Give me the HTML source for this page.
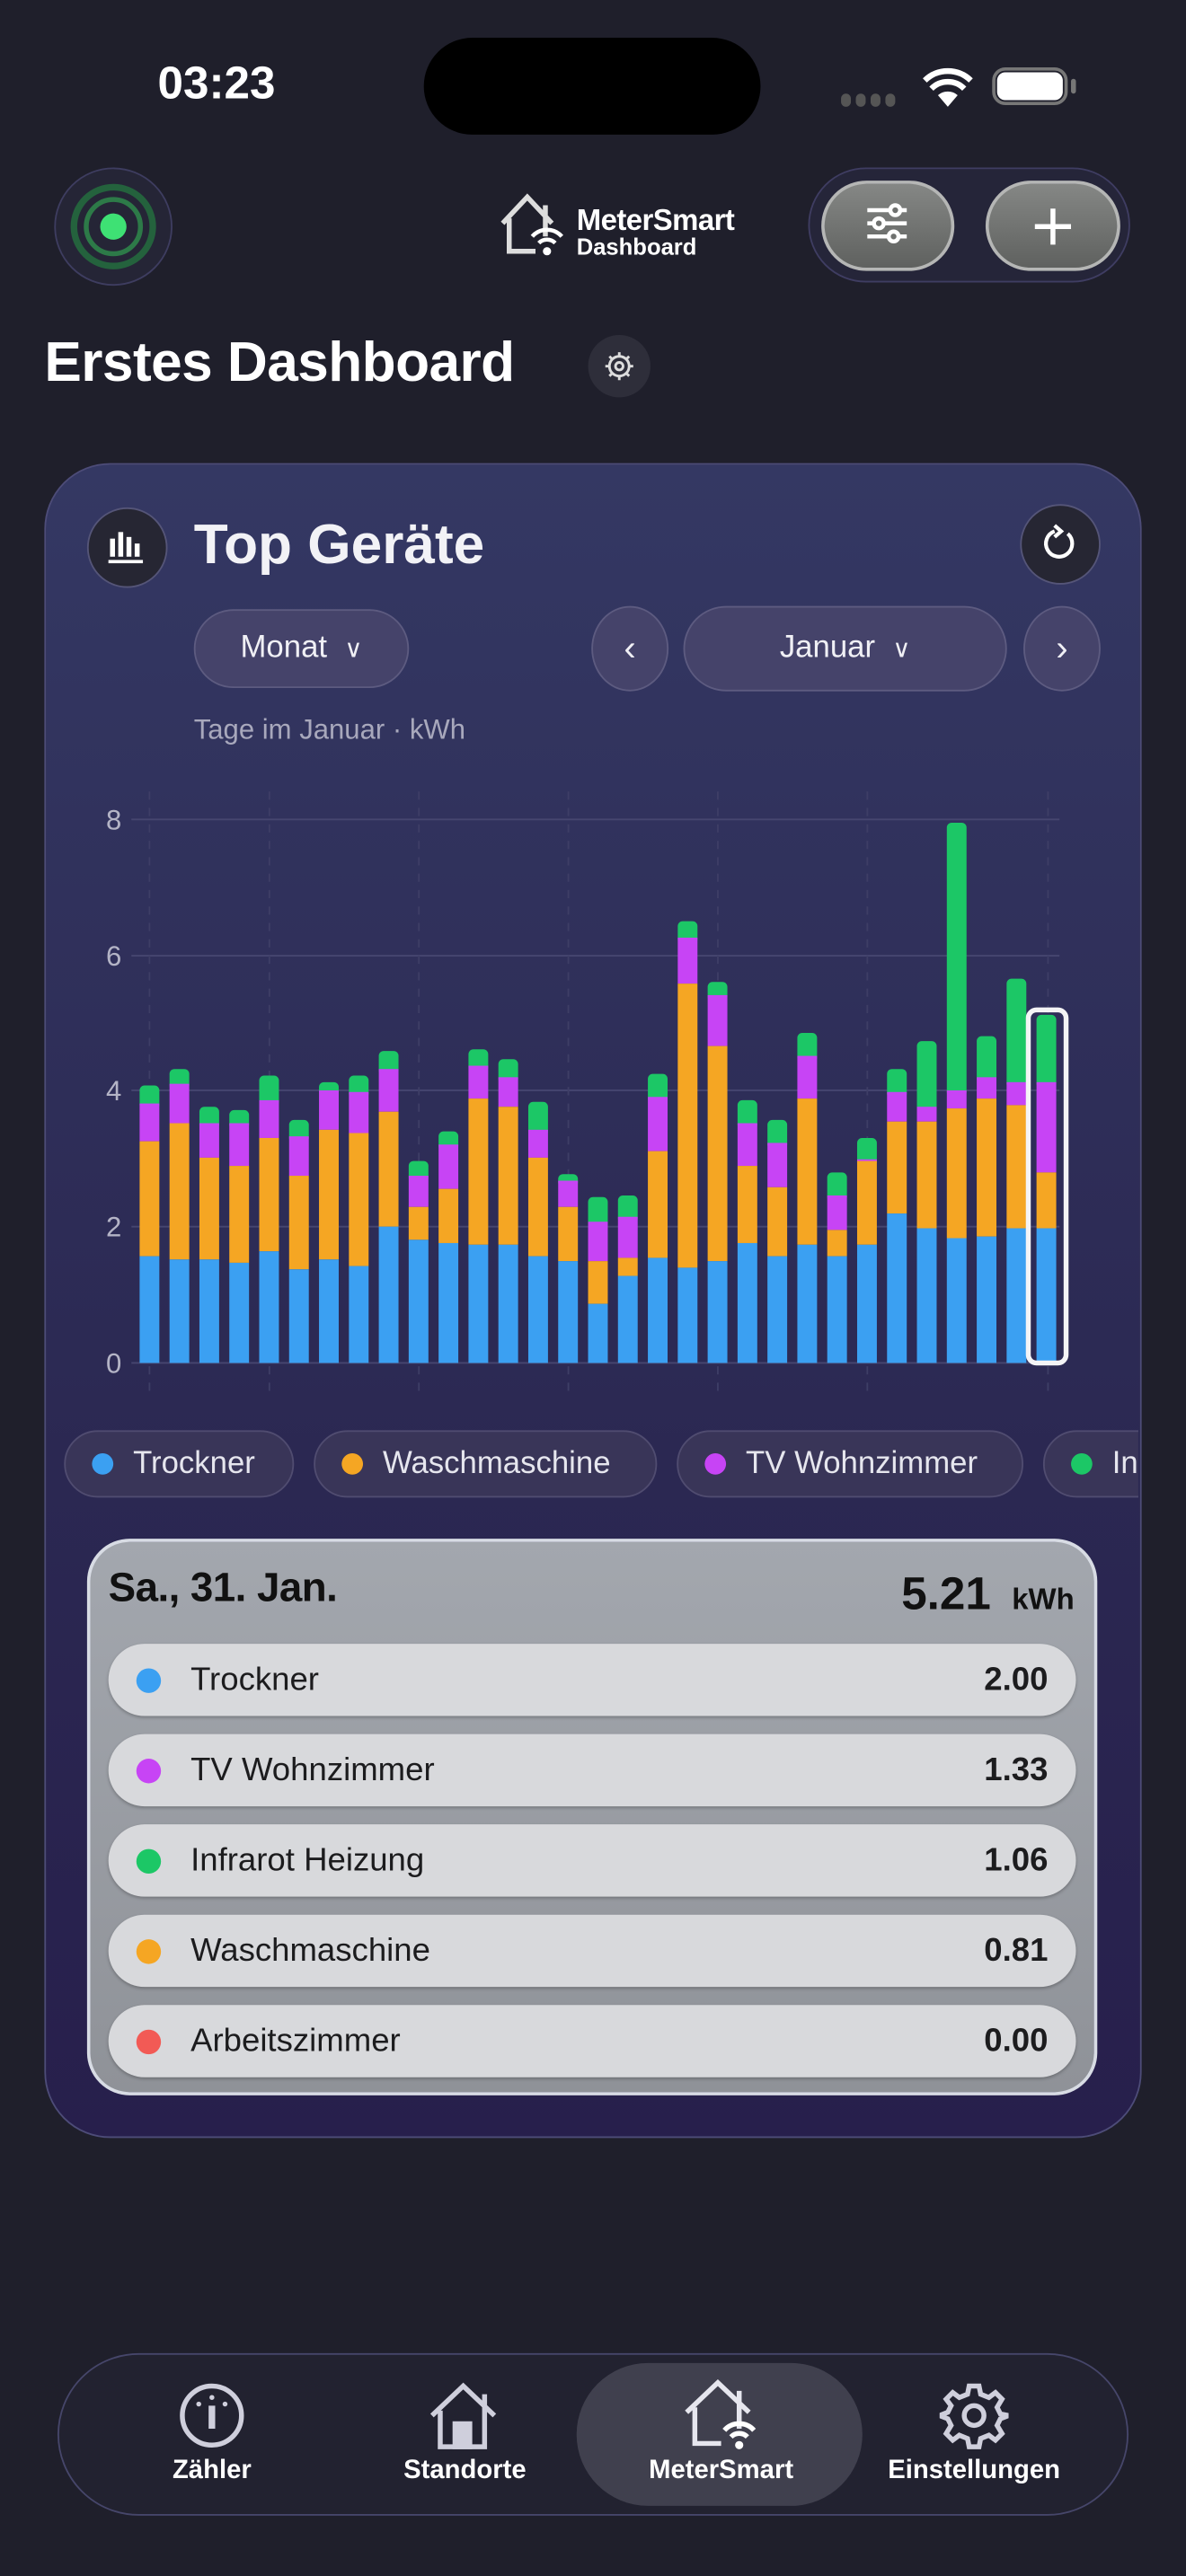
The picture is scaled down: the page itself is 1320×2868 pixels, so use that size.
<!DOCTYPE html>
<html><head><meta charset="utf-8">
<style>
html,body{margin:0;padding:0;background:#1f1f2b;width:1320px;height:2868px;overflow:hidden}
#s{position:absolute;left:0;top:0;width:722px;height:1568px;overflow:hidden;transform:scale(1.82825);transform-origin:0 0;font-family:"Liberation Sans",sans-serif;color:#fff}
.a{position:absolute}
.circ{position:absolute;border-radius:50%;box-sizing:border-box}
.pill{position:absolute;box-sizing:border-box;border-radius:24px;background:#45436a;border:1.5px solid #5d5b80;display:flex;align-items:center;justify-content:center;font-size:19px;color:#f0f0f5}
.chip{position:absolute;top:11px;height:41px;box-sizing:border-box;border-radius:21px;background:#393558;border:1.5px solid #504c70;font-size:19px;color:#e6e6ee;display:flex;align-items:center;padding-left:16px;white-space:nowrap}
.dot{width:13px;height:13px;border-radius:50%;display:inline-block;margin-right:12px}
.row{position:absolute;left:66px;width:589px;height:44px;border-radius:22px;background:#d8d9dc;box-shadow:0 1px 2px rgba(0,0,0,.25);display:flex;align-items:center;font-size:20px;color:#1c1c1e}
.row .dot{margin-left:17px;margin-right:18px;width:15px;height:15px}
.row b{position:absolute;right:17px;font-weight:700;font-size:20px}
.tl{position:absolute;top:1496px;font-size:16px;font-weight:700;color:#fff;width:160px;text-align:center}
</style></head><body><div id="s">
<!-- status bar -->
<div class="a" style="left:96px;top:35px;font-size:28px;font-weight:700">03:23</div>
<div class="a" style="left:258px;top:23px;width:205px;height:59px;border-radius:30px;background:#000"></div>
<div class="a" style="left:512px;top:57px;width:35px;height:8px">
 <span class="a" style="left:0;width:6px;height:8px;border-radius:3px;background:#555"></span><span class="a" style="left:9px;width:6px;height:8px;border-radius:3px;background:#555"></span><span class="a" style="left:18px;width:6px;height:8px;border-radius:3px;background:#555"></span><span class="a" style="left:27px;width:6px;height:8px;border-radius:3px;background:#555"></span></div>
<svg class="a" style="left:560px;top:40px" width="34" height="26" viewBox="0 0 34 26"><path d="M17 25 L11 18 A9 9 0 0 1 23 18 Z" fill="#fff"/><path d="M7 14 A14 14 0 0 1 27 14" stroke="#fff" stroke-width="3.5" fill="none"/><path d="M3 9 A20 20 0 0 1 31 9" stroke="#fff" stroke-width="3.5" fill="none"/></svg>
<div class="a" style="left:604px;top:41px;width:46px;height:23px;border-radius:8px;border:2px solid #777;box-sizing:border-box"></div>
<div class="a" style="left:607px;top:44px;width:40px;height:17px;border-radius:5px;background:#fff"></div>
<div class="a" style="left:652px;top:48px;width:3px;height:9px;border-radius:2px;background:#777"></div>
<!-- header -->
<div class="circ" style="left:33px;top:102px;width:72px;height:72px;background:#252536;border:1.5px solid #3e3d60"></div>
<div class="circ" style="left:43px;top:112px;width:52px;height:52px;border:4px solid #24623d"></div>
<div class="circ" style="left:51px;top:120px;width:36px;height:36px;border:3.5px solid #2d7a48"></div>
<div class="circ" style="left:61px;top:130px;width:16px;height:16px;background:#3ee174"></div>
<svg class="a" style="left:302px;top:116px" width="50" height="42" viewBox="0 0 50 42"><path d="M4 20 L19 4 L34 20 M30 9 V28 M8 17 V37 H24" stroke="#ddd" stroke-width="3" fill="none"/><path d="M26 32 A7 7 0 0 1 36 32 M22 28 A12 12 0 0 1 40 28" stroke="#fff" stroke-width="2.5" fill="none"/><circle cx="31" cy="37" r="2.5" fill="#fff"/></svg>
<div class="a" style="left:351px;top:124px;font-size:18px;font-weight:700;letter-spacing:-.3px">MeterSmart</div>
<div class="a" style="left:351px;top:142px;font-size:14px;font-weight:700">Dashboard</div>
<div class="a" style="left:492px;top:102px;width:196px;height:70px;border-radius:35px;background:#252539;border:1.5px solid #3f3d62;box-sizing:border-box"></div>
<div class="a" style="left:500px;top:110px;width:81px;height:55px;border-radius:28px;background:linear-gradient(#858785,#5f615f);border:2px solid #b5b6b5;box-sizing:border-box"></div>
<div class="a" style="left:600px;top:110px;width:82px;height:55px;border-radius:28px;background:linear-gradient(#858785,#5f615f);border:2px solid #b5b6b5;box-sizing:border-box"></div>
<svg class="a" style="left:525px;top:122px" width="30" height="30" viewBox="0 0 30 30" stroke="#fff" stroke-width="2.5" fill="none"><path d="M3 6H27M3 14H27M3 22H27"/><circle cx="20" cy="6" r="3" fill="#6f716f"/><circle cx="10" cy="14" r="3" fill="#6f716f"/><circle cx="19" cy="22" r="3" fill="#6f716f"/></svg>
<svg class="a" style="left:627px;top:124px" width="28" height="28" viewBox="0 0 28 28" stroke="#fff" stroke-width="3"><path d="M14 3V25M3 14H25"/></svg>
<div class="a" style="left:27px;top:202px;font-size:34px;font-weight:700;letter-spacing:-.3px">Erstes Dashboard</div>
<div class="circ" style="left:358px;top:204px;width:38px;height:38px;background:#2e2e3a"></div>
<svg class="a" style="left:367px;top:213px" width="20" height="20" viewBox="0 0 20 20" fill="none" stroke="#ddd" stroke-width="1.6"><circle cx="10" cy="10" r="6"/><circle cx="10" cy="10" r="2.3"/><path d="M10 1.5V4M10 16V18.5M1.5 10H4M16 10H18.5M4 4L5.8 5.8M14.2 14.2L16 16M16 4L14.2 5.8M5.8 14.2L4 16"/></svg>
<!-- card -->
<div class="a" style="left:27px;top:282px;width:668px;height:1020px;border-radius:40px;background:linear-gradient(#343863,#2b2852 60%,#271f4c);border:1.5px solid #4d4c78;box-sizing:border-box"></div>
<div class="circ" style="left:53px;top:309px;width:49px;height:49px;background:#262633;border:1.5px solid #555578"></div>
<svg class="a" style="left:65px;top:322px" width="24" height="22" viewBox="0 0 24 22" fill="#fff"><rect x="2" y="6" width="3" height="11"/><rect x="7" y="2" width="3" height="15"/><rect x="12" y="5" width="3" height="12"/><rect x="17" y="9" width="3" height="8"/><rect x="1" y="19" width="21" height="2"/></svg>
<div class="a" style="left:118px;top:313px;font-size:34px;font-weight:700;color:#f2f2f6">Top Geräte</div>
<div class="circ" style="left:621px;top:307px;width:49px;height:49px;background:#262633;border:1.5px solid #555578"></div>
<svg class="a" style="left:633px;top:319px" width="24" height="24" viewBox="0 0 24 24" fill="none" stroke="#fff" stroke-width="2.3"><path d="M17 6 A8 8 0 1 1 9 4.5"/><path d="M9 1 L13 4.5 L9 8"/></svg>
<div class="pill" style="left:118px;top:371px;width:131px;height:48px">Monat&nbsp;&nbsp;<span style="font-size:15px">∨</span></div>
<div class="pill" style="left:360px;top:369px;width:47px;height:52px;border-radius:50%;font-size:22px">‹</div>
<div class="pill" style="left:416px;top:369px;width:197px;height:52px;border-radius:26px">Januar&nbsp;&nbsp;<span style="font-size:15px">∨</span></div>
<div class="pill" style="left:623px;top:369px;width:47px;height:52px;border-radius:50%;font-size:22px">›</div>
<div class="a" style="left:118px;top:435px;font-size:17px;color:#a8a8bc">Tage im Januar · kWh</div>
<!-- chart -->
<svg class="a" style="left:0;top:0" width="722" height="900" viewBox="0 0 722 900">
<g stroke="#464670" stroke-width="1"><line x1="80" x2="645" y1="499" y2="499"/><line x1="80" x2="645" y1="582" y2="582"/><line x1="80" x2="645" y1="664" y2="664"/><line x1="80" x2="645" y1="747" y2="747"/><line x1="80" x2="645" y1="830" y2="830"/></g>
<g stroke="#3e3e66" stroke-width="1" stroke-dasharray="5 5"><line x1="91" x2="91" y1="482" y2="850"/><line x1="164" x2="164" y1="482" y2="850"/><line x1="255" x2="255" y1="482" y2="850"/><line x1="346" x2="346" y1="482" y2="850"/><line x1="437" x2="437" y1="482" y2="850"/><line x1="528" x2="528" y1="482" y2="850"/><line x1="638" x2="638" y1="482" y2="850"/></g>
<g font-family="Liberation Sans,sans-serif" font-size="17" fill="#b4b4c6" text-anchor="end"><text x="74" y="505">8</text><text x="74" y="588">6</text><text x="74" y="670">4</text><text x="74" y="753">2</text><text x="74" y="836">0</text></g>
<g>
<rect x="85" y="661" width="12" height="15" rx="3" fill="#1cc766"/><rect x="85" y="672" width="12" height="23" fill="#c744f5"/><rect x="85" y="695" width="12" height="70" fill="#f5a623"/><rect x="85" y="765" width="12" height="65" fill="#3ba0f2"/>
<rect x="103.2" y="651" width="12" height="13" rx="3" fill="#1cc766"/><rect x="103.2" y="660" width="12" height="24" fill="#c744f5"/><rect x="103.2" y="684" width="12" height="83" fill="#f5a623"/><rect x="103.2" y="767" width="12" height="63" fill="#3ba0f2"/>
<rect x="121.4" y="674" width="12" height="14" rx="3" fill="#1cc766"/><rect x="121.4" y="684" width="12" height="21" fill="#c744f5"/><rect x="121.4" y="705" width="12" height="62" fill="#f5a623"/><rect x="121.4" y="767" width="12" height="63" fill="#3ba0f2"/>
<rect x="139.6" y="676" width="12" height="12" rx="3" fill="#1cc766"/><rect x="139.6" y="684" width="12" height="26" fill="#c744f5"/><rect x="139.6" y="710" width="12" height="59" fill="#f5a623"/><rect x="139.6" y="769" width="12" height="61" fill="#3ba0f2"/>
<rect x="157.8" y="655" width="12" height="19" rx="3" fill="#1cc766"/><rect x="157.8" y="670" width="12" height="23" fill="#c744f5"/><rect x="157.8" y="693" width="12" height="69" fill="#f5a623"/><rect x="157.8" y="762" width="12" height="68" fill="#3ba0f2"/>
<rect x="176" y="682" width="12" height="14" rx="3" fill="#1cc766"/><rect x="176" y="692" width="12" height="24" fill="#c744f5"/><rect x="176" y="716" width="12" height="57" fill="#f5a623"/><rect x="176" y="773" width="12" height="57" fill="#3ba0f2"/>
<rect x="194.2" y="659" width="12" height="9" rx="3" fill="#1cc766"/><rect x="194.2" y="664" width="12" height="24" fill="#c744f5"/><rect x="194.2" y="688" width="12" height="79" fill="#f5a623"/><rect x="194.2" y="767" width="12" height="63" fill="#3ba0f2"/>
<rect x="212.4" y="655" width="12" height="14" rx="3" fill="#1cc766"/><rect x="212.4" y="665" width="12" height="25" fill="#c744f5"/><rect x="212.4" y="690" width="12" height="81" fill="#f5a623"/><rect x="212.4" y="771" width="12" height="59" fill="#3ba0f2"/>
<rect x="230.6" y="640" width="12" height="15" rx="3" fill="#1cc766"/><rect x="230.6" y="651" width="12" height="26" fill="#c744f5"/><rect x="230.6" y="677" width="12" height="70" fill="#f5a623"/><rect x="230.6" y="747" width="12" height="83" fill="#3ba0f2"/>
<rect x="248.8" y="707" width="12" height="13" rx="3" fill="#1cc766"/><rect x="248.8" y="716" width="12" height="19" fill="#c744f5"/><rect x="248.8" y="735" width="12" height="20" fill="#f5a623"/><rect x="248.8" y="755" width="12" height="75" fill="#3ba0f2"/>
<rect x="267" y="689" width="12" height="12" rx="3" fill="#1cc766"/><rect x="267" y="697" width="12" height="27" fill="#c744f5"/><rect x="267" y="724" width="12" height="33" fill="#f5a623"/><rect x="267" y="757" width="12" height="73" fill="#3ba0f2"/>
<rect x="285.2" y="639" width="12" height="14" rx="3" fill="#1cc766"/><rect x="285.2" y="649" width="12" height="20" fill="#c744f5"/><rect x="285.2" y="669" width="12" height="89" fill="#f5a623"/><rect x="285.2" y="758" width="12" height="72" fill="#3ba0f2"/>
<rect x="303.4" y="645" width="12" height="15" rx="3" fill="#1cc766"/><rect x="303.4" y="656" width="12" height="18" fill="#c744f5"/><rect x="303.4" y="674" width="12" height="84" fill="#f5a623"/><rect x="303.4" y="758" width="12" height="72" fill="#3ba0f2"/>
<rect x="321.6" y="671" width="12" height="21" rx="3" fill="#1cc766"/><rect x="321.6" y="688" width="12" height="17" fill="#c744f5"/><rect x="321.6" y="705" width="12" height="60" fill="#f5a623"/><rect x="321.6" y="765" width="12" height="65" fill="#3ba0f2"/>
<rect x="339.8" y="715" width="12" height="8" rx="3" fill="#1cc766"/><rect x="339.8" y="719" width="12" height="16" fill="#c744f5"/><rect x="339.8" y="735" width="12" height="33" fill="#f5a623"/><rect x="339.8" y="768" width="12" height="62" fill="#3ba0f2"/>
<rect x="358" y="729" width="12" height="19" rx="3" fill="#1cc766"/><rect x="358" y="744" width="12" height="24" fill="#c744f5"/><rect x="358" y="768" width="12" height="26" fill="#f5a623"/><rect x="358" y="794" width="12" height="36" fill="#3ba0f2"/>
<rect x="376.2" y="728" width="12" height="17" rx="3" fill="#1cc766"/><rect x="376.2" y="741" width="12" height="25" fill="#c744f5"/><rect x="376.2" y="766" width="12" height="11" fill="#f5a623"/><rect x="376.2" y="777" width="12" height="53" fill="#3ba0f2"/>
<rect x="394.4" y="654" width="12" height="18" rx="3" fill="#1cc766"/><rect x="394.4" y="668" width="12" height="33" fill="#c744f5"/><rect x="394.4" y="701" width="12" height="65" fill="#f5a623"/><rect x="394.4" y="766" width="12" height="64" fill="#3ba0f2"/>
<rect x="412.6" y="561" width="12" height="14" rx="3" fill="#1cc766"/><rect x="412.6" y="571" width="12" height="28" fill="#c744f5"/><rect x="412.6" y="599" width="12" height="173" fill="#f5a623"/><rect x="412.6" y="772" width="12" height="58" fill="#3ba0f2"/>
<rect x="430.8" y="598" width="12" height="12" rx="3" fill="#1cc766"/><rect x="430.8" y="606" width="12" height="31" fill="#c744f5"/><rect x="430.8" y="637" width="12" height="131" fill="#f5a623"/><rect x="430.8" y="768" width="12" height="62" fill="#3ba0f2"/>
<rect x="449" y="670" width="12" height="18" rx="3" fill="#1cc766"/><rect x="449" y="684" width="12" height="26" fill="#c744f5"/><rect x="449" y="710" width="12" height="47" fill="#f5a623"/><rect x="449" y="757" width="12" height="73" fill="#3ba0f2"/>
<rect x="467.2" y="682" width="12" height="18" rx="3" fill="#1cc766"/><rect x="467.2" y="696" width="12" height="27" fill="#c744f5"/><rect x="467.2" y="723" width="12" height="42" fill="#f5a623"/><rect x="467.2" y="765" width="12" height="65" fill="#3ba0f2"/>
<rect x="485.4" y="629" width="12" height="18" rx="3" fill="#1cc766"/><rect x="485.4" y="643" width="12" height="26" fill="#c744f5"/><rect x="485.4" y="669" width="12" height="89" fill="#f5a623"/><rect x="485.4" y="758" width="12" height="72" fill="#3ba0f2"/>
<rect x="503.6" y="714" width="12" height="18" rx="3" fill="#1cc766"/><rect x="503.6" y="728" width="12" height="21" fill="#c744f5"/><rect x="503.6" y="749" width="12" height="16" fill="#f5a623"/><rect x="503.6" y="765" width="12" height="65" fill="#3ba0f2"/>
<rect x="521.8" y="693" width="12" height="17" rx="3" fill="#1cc766"/><rect x="521.8" y="706" width="12" height="2" fill="#c744f5"/><rect x="521.8" y="707" width="12" height="51" fill="#f5a623"/><rect x="521.8" y="758" width="12" height="72" fill="#3ba0f2"/>
<rect x="540" y="651" width="12" height="18" rx="3" fill="#1cc766"/><rect x="540" y="665" width="12" height="18" fill="#c744f5"/><rect x="540" y="683" width="12" height="56" fill="#f5a623"/><rect x="540" y="739" width="12" height="91" fill="#3ba0f2"/>
<rect x="558.2" y="634" width="12" height="44" rx="3" fill="#1cc766"/><rect x="558.2" y="674" width="12" height="9" fill="#c744f5"/><rect x="558.2" y="683" width="12" height="65" fill="#f5a623"/><rect x="558.2" y="748" width="12" height="82" fill="#3ba0f2"/>
<rect x="576.4" y="501" width="12" height="167" rx="3" fill="#1cc766"/><rect x="576.4" y="664" width="12" height="11" fill="#c744f5"/><rect x="576.4" y="675" width="12" height="79" fill="#f5a623"/><rect x="576.4" y="754" width="12" height="76" fill="#3ba0f2"/>
<rect x="594.6" y="631" width="12" height="29" rx="3" fill="#1cc766"/><rect x="594.6" y="656" width="12" height="13" fill="#c744f5"/><rect x="594.6" y="669" width="12" height="84" fill="#f5a623"/><rect x="594.6" y="753" width="12" height="77" fill="#3ba0f2"/>
<rect x="612.8" y="596" width="12" height="67" rx="3" fill="#1cc766"/><rect x="612.8" y="659" width="12" height="14" fill="#c744f5"/><rect x="612.8" y="673" width="12" height="75" fill="#f5a623"/><rect x="612.8" y="748" width="12" height="82" fill="#3ba0f2"/>
<rect x="631" y="618" width="12" height="45" rx="3" fill="#1cc766"/><rect x="631" y="659" width="12" height="55" fill="#c744f5"/><rect x="631" y="714" width="12" height="34" fill="#f5a623"/><rect x="631" y="748" width="12" height="82" fill="#3ba0f2"/>
</g>
<rect x="626" y="615" width="23" height="215" rx="5" fill="none" stroke="#f4f4f6" stroke-width="3"/>
</svg>
<!-- legend -->
<div class="a" style="left:28px;top:860px;width:665px;height:60px;overflow:hidden">
<div class="chip" style="left:11px;width:140px"><span class="dot" style="background:#3ba0f2"></span>Trockner</div>
<div class="chip" style="left:163px;width:209px"><span class="dot" style="background:#f5a623"></span>Waschmaschine</div>
<div class="chip" style="left:384px;width:211px"><span class="dot" style="background:#c744f5"></span>TV Wohnzimmer</div>
<div class="chip" style="left:607px;width:200px"><span class="dot" style="background:#1cc766"></span>Infrarot Heizung</div>
</div>
<!-- detail panel -->
<div class="a" style="left:53px;top:937px;width:615px;height:339px;border-radius:26px;background:linear-gradient(#a3a7ae,#8f9298);border:2px solid #d8dce4;box-sizing:border-box;overflow:hidden">
 <div class="a" style="left:11px;top:14px;font-size:25px;font-weight:700;color:#111;letter-spacing:-.3px">Sa., 31. Jan.</div>
 <div class="a" style="right:12px;top:16px;font-size:28px;font-weight:700;color:#111">5.21 <span style="font-size:18px">&nbsp;kWh</span></div>
 <div class="row" style="left:11px;top:62px"><span class="dot" style="background:#3ba0f2"></span>Trockner<b>2.00</b></div>
 <div class="row" style="left:11px;top:117px"><span class="dot" style="background:#c744f5"></span>TV Wohnzimmer<b>1.33</b></div>
 <div class="row" style="left:11px;top:172px"><span class="dot" style="background:#1cc766"></span>Infrarot Heizung<b>1.06</b></div>
 <div class="row" style="left:11px;top:227px"><span class="dot" style="background:#f5a623"></span>Waschmaschine<b>0.81</b></div>
 <div class="row" style="left:11px;top:282px"><span class="dot" style="background:#f25a55"></span>Arbeitszimmer<b>0.00</b></div>
</div>
<!-- tab bar -->
<div class="a" style="left:35px;top:1433px;width:652px;height:99px;border-radius:50px;background:#222230;border:1.5px solid #46466a;box-sizing:border-box"></div>
<div class="a" style="left:351px;top:1439px;width:174px;height:87px;border-radius:44px;background:#40404e"></div>
<svg class="a" style="left:108px;top:1450px" width="42" height="42" viewBox="0 0 42 42" fill="none" stroke="#cfcfdc" stroke-width="3"><circle cx="21" cy="21" r="18"/><path d="M21 15 L21 29" stroke-width="4"/><circle cx="13" cy="14" r="1.5" fill="#cfcfdc" stroke="none"/><circle cx="21" cy="10" r="1.5" fill="#cfcfdc" stroke="none"/><circle cx="29" cy="14" r="1.5" fill="#cfcfdc" stroke="none"/></svg>
<svg class="a" style="left:260px;top:1450px" width="46" height="42" viewBox="0 0 46 42" fill="none" stroke="#cfcfdc" stroke-width="3"><path d="M3 21 L22 3 L41 21 M35 8 V40 H8 V18"/><rect x="17" y="26" width="9" height="14" fill="#cfcfdc"/></svg>
<svg class="a" style="left:415px;top:1448px" width="48" height="46" viewBox="0 0 48 46" fill="none" stroke="#e6e6ee" stroke-width="3"><path d="M3 21 L22 3 L41 21 M35 8 V31 M8 18 V40 H24"/><path d="M30 36 A7 7 0 0 1 40 36 M26 32 A12 12 0 0 1 44 32" stroke="#fff"/><circle cx="35" cy="41" r="2.5" fill="#fff" stroke="none"/></svg>
<svg class="a" style="left:572px;top:1450px" width="42" height="42" viewBox="0 0 42 42" fill="none" stroke="#cfcfdc" stroke-width="3"><path d="M18 3H24L25 8L30 10L34 7L38 11L35 16L37 20L42 21V21L37 23L35 27L38 32L34 36L30 33L25 35L24 40H18L17 35L12 33L8 36L4 32L7 27L5 23L0 21L5 19L7 15L4 11L8 7L12 10L17 8Z" transform="translate(0,0)"/><circle cx="21" cy="21" r="6"/></svg>
<div class="tl" style="left:49px">Zähler</div>
<div class="tl" style="left:203px">Standorte</div>
<div class="tl" style="left:359px">MeterSmart</div>
<div class="tl" style="left:513px">Einstellungen</div>
</div></body></html>
